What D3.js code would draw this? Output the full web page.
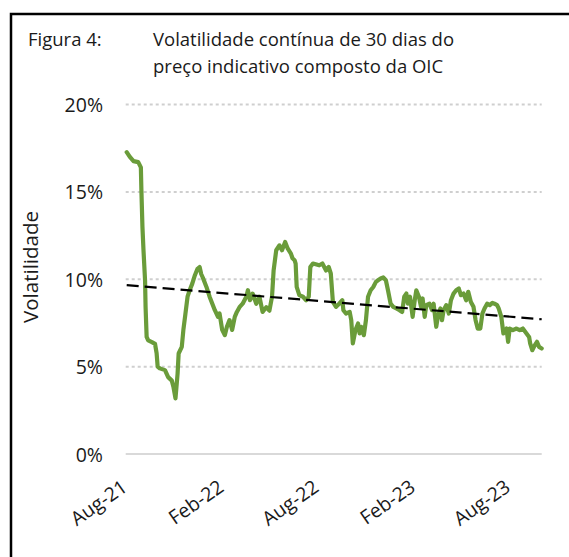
<!DOCTYPE html>
<html>
<head>
<meta charset="utf-8">
<script src="https://cdn.jsdelivr.net/npm/d3@7"></script>
<style>
  body { margin: 0; background: #fff; }
  svg { display: block; }
</style>
</head>
<body>
<svg id="chart" width="569" height="557"></svg>
<script>
// Figura 4: 30-day rolling volatility of the ICO composite indicator price

const startDate = new Date(2021, 7, 2);

// days after startDate
const dayOffsets = [
  0, 6, 13, 22, 27, 28, 30, 32, 35, 36, 38, 41, 48, 54, 57, 59, 63, 73, 79, 86,
  89, 93, 97, 99, 105, 108, 112, 116, 120, 125, 130, 135, 139, 142, 145, 152, 158, 168, 174, 177,
  182, 187, 191, 196, 201, 206, 210, 215, 221, 228, 231, 235, 240, 247, 253, 259, 266, 272, 277, 280,
  285, 291, 296, 302, 307, 313, 316, 320, 322, 324, 329, 336, 342, 347, 350, 355, 367, 373, 380, 385,
  389, 393, 399, 405, 411, 413, 418, 425, 428, 431, 436, 441, 444, 447, 452, 456, 460, 465, 470, 475,
  479, 484, 489, 494, 498, 503, 508, 514, 520, 525, 529, 533, 536, 540, 545, 549, 552, 557, 561, 564,
  568, 571, 577, 582, 585, 590, 593, 598, 601, 604, 609, 614, 618, 623, 628, 633, 637, 642, 647, 651,
  656, 661, 665, 669, 674, 678, 682, 687, 692, 697, 701, 706, 709, 714, 718, 724, 727, 730, 736, 743,
  749, 755, 762, 767, 769, 773, 778, 782, 786, 791
];

// volatility, %
const volatility = [
  17.27, 17.0, 16.76, 16.7, 16.4, 15.1, 13.0, 11.66, 9.94, 8.4, 6.7, 6.5, 6.4, 6.3, 5.77, 5.0, 4.9, 4.8, 4.4, 4.2,
  3.85, 3.18, 4.6, 5.75, 6.13, 7.09, 8.04, 9.0, 9.37, 9.75, 10.23, 10.6, 10.7, 10.3, 10.1, 9.56, 9.0, 8.23, 7.85, 8.04,
  7.1, 6.8, 7.28, 7.66, 7.1, 7.85, 8.13, 8.4, 8.6, 9.0, 9.37, 8.8, 9.18, 8.6, 9.0, 8.13, 8.4, 8.2, 9.0, 10.5,
  11.66, 11.94, 11.66, 12.13, 11.75, 11.47, 11.2, 11.09, 10.9, 9.56, 9.09, 9.0, 8.8, 9.0, 10.7, 10.9, 10.8, 10.9, 10.5, 10.7,
  10.33, 8.7, 8.42, 8.6, 8.8, 8.23, 8.04, 8.13, 7.66, 6.33, 7.09, 7.47, 6.9, 7.28, 6.8, 7.66, 9.0, 9.37, 9.56, 9.85,
  9.94, 10.04, 10.1, 9.94, 9.37, 8.6, 8.42, 8.33, 8.23, 8.13, 9.0, 9.18, 8.6, 9.0, 7.85, 8.8, 9.37, 9.0, 8.42, 8.9,
  7.85, 8.52, 8.6, 8.23, 8.6, 7.28, 7.85, 8.33, 7.66, 8.23, 8.52, 8.04, 8.8, 9.18, 9.37, 9.47, 9.09, 9.18, 8.8, 9.28,
  8.7, 8.42, 7.66, 7.18, 7.18, 8.04, 8.33, 8.6, 8.52, 8.65, 8.6, 8.52, 8.33, 7.85, 6.9, 7.18, 6.42, 7.18, 7.09, 7.18,
  7.09, 7.18, 6.9, 6.7, 6.33, 5.94, 6.23, 6.42, 6.13, 6.04
];

// linear trend, value at first and last date (%)
const trendEnds = [9.66, 7.71];

const yTicks = [0, 5, 10, 15, 20];
const tickMonthStep = 6;
const yAxisTitle = 'Volatilidade';
const figLabel = 'Figura 4:';
const titleLines = ['Volatilidade contínua de 30 dias do', 'preço indicativo composto da OIC'];

const palette = {
  font: '"Open Sans", "Noto Sans", sans-serif',
  text: '#1a1a1a',
  grid: '#cfcfcf',
  base: '#d9d9d9',
  line: '#6a9c3a',
  trend: '#000'
};

const data = dayOffsets.map((d, i) => ({ date: d3.timeDay.offset(startDate, d), v: volatility[i] }));

const svg = d3.select('#chart');
const W = 569, H = 557;
const M = { left: 126.7, right: W - 541.7, top: 104.5, bottom: H - 454 };

// outer frame, cut by the window on right and bottom
svg.append('rect')
  .attr('x', 11).attr('y', 14).attr('width', 700).attr('height', 700)
  .style('fill', 'none').style('stroke', '#000').style('stroke-width', 2.5);

svg.append('text')
  .attr('x', 28).attr('y', 46)
  .style('font-family', palette.font).style('font-size', '18.5px').style('fill', palette.text)
  .text(figLabel);

titleLines.forEach((t, i) => {
  svg.append('text')
    .attr('x', 153).attr('y', 46 + i * 27)
    .style('font-family', palette.font).style('font-size', '18.5px').style('fill', palette.text)
    .text(t);
});

const x = d3.scaleTime()
  .domain(d3.extent(data, d => d.date))
  .range([M.left, W - M.right]);

const y = d3.scaleLinear()
  .domain([0, 20])
  .range([H - M.bottom, M.top]);

// gridlines
svg.append('g').selectAll('line')
  .data(yTicks)
  .join('line')
  .attr('x1', M.left - 1).attr('x2', W - M.right)
  .attr('y1', d => y(d)).attr('y2', d => y(d))
  .style('stroke', d => d === 0 ? palette.base : palette.grid)
  .style('stroke-width', 2)
  .style('stroke-dasharray', d => d === 0 ? null : '3,3');

// y tick labels
svg.append('g').selectAll('text')
  .data(yTicks)
  .join('text')
  .attr('x', 103).attr('y', d => y(d))
  .attr('text-anchor', 'end').attr('dominant-baseline', 'central')
  .style('font-family', palette.font).style('font-size', '19.5px').style('fill', palette.text)
  .text(d => d + '%');

svg.append('text')
  .attr('transform', 'translate(38,267) rotate(-90)')
  .attr('text-anchor', 'middle')
  .style('font-family', palette.font).style('font-size', '20.5px').style('fill', palette.text)
  .text(yAxisTitle);

// x tick labels
const [d0, d1] = x.domain();
const xTicks = [];
for (let t = d0; t <= d1; t = d3.timeMonth.offset(t, tickMonthStep)) xTicks.push(t);
const fmt = d3.timeFormat('%b-%y');

svg.append('g').selectAll('text')
  .data(xTicks)
  .join('text')
  .attr('transform', d => `translate(${x(d) + 2},${490}) rotate(-35)`)
  .attr('text-anchor', 'end')
  .style('font-family', palette.font).style('font-size', '19.5px').style('fill', palette.text)
  .text(d => fmt(d));

// series
svg.append('path')
  .datum(data)
  .attr('d', d3.line().x(d => x(d.date)).y(d => y(d.v)))
  .style('fill', 'none').style('stroke', palette.line)
  .style('stroke-width', 4.2).style('stroke-linejoin', 'round').style('stroke-linecap', 'round');

// trend line
svg.append('path')
  .datum([{ date: d0, v: trendEnds[0] }, { date: d1, v: trendEnds[1] }])
  .attr('d', d3.line().x(d => x(d.date)).y(d => y(d.v)))
  .style('fill', 'none').style('stroke', palette.trend)
  .style('stroke-width', 2.2).style('stroke-dasharray', '12,6');
</script>
</body>
</html>
